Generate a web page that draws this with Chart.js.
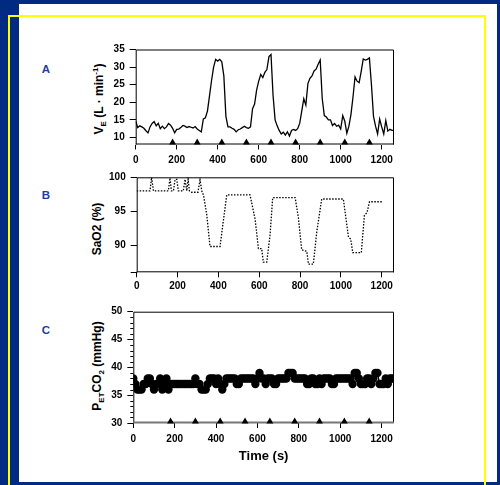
<!DOCTYPE html>
<html>
<head>
<meta charset="utf-8">
<script src="https://cdn.jsdelivr.net/npm/chart.js@4.4.0/dist/chart.umd.min.js"></script>
<style>
  html, body { margin: 0; padding: 0; }
  body { width: 500px; height: 485px; background: #012a82; position: relative; overflow: hidden;
         font-family: "Liberation Sans", Arial, sans-serif; }
  #paper { position: absolute; left: 19px; top: 4px; width: 478px; height: 478px; background: #fff; }
  .yl { position: absolute; background: #ffff00; }
  canvas { position: absolute; }
  .tag { position: absolute; color: #1c3f9e; font-weight: bold; font-size: 11.5px; transform: translate(-50%, -50%); }
  .ttl { position: absolute; font-weight: bold; font-size: 12px; white-space: nowrap; line-height: 12px;
         transform: translate(-50%, -50%) rotate(-90deg); }
  .ttl sub, .ttl sup { font-size: 8px; line-height: 0; }
</style>
</head>
<body>
<div id="paper"></div>
<div class="yl" style="left:8px;top:15px;width:478px;height:2px"></div>
<div class="yl" style="left:8px;top:15px;width:2px;height:470px"></div>
<div class="yl" style="left:484px;top:15px;width:2px;height:470px"></div>

<div class="tag" style="left:46px;top:69px">A</div>
<div class="tag" style="left:46px;top:195px">B</div>
<div class="tag" style="left:46px;top:330px">C</div>

<div class="ttl" style="left:99px;top:99px">V<sub>E</sub> (L · min<sup>-1</sup>)</div>
<div class="ttl" style="left:97px;top:229px">SaO2 (%)</div>
<div class="ttl" style="left:97px;top:366px">P<sub>ET</sub>CO<sub>2</sub> (mmHg)</div>

<canvas id="cA" width="345" height="135" style="left:60px;top:35px"></canvas>
<canvas id="cB" width="345" height="135" style="left:60px;top:165px"></canvas>
<canvas id="cC" width="345" height="170" style="left:60px;top:300px"></canvas>

<script>
// sample times (s) for panels A and C
const timeAC = [
  0, 10, 20, 30, 40, 50, 60, 70, 80, 90,
  100, 110, 120, 130, 140, 150, 160, 170, 180, 190,
  200, 210, 220, 230, 240, 250, 260, 270, 280, 290,
  300, 310, 320, 330, 340, 350, 360, 370, 380, 390,
  400, 410, 420, 430, 440, 450, 460, 470, 480, 490,
  500, 510, 520, 530, 540, 550, 560, 570, 580, 590,
  600, 610, 620, 630, 640, 650, 660, 670, 680, 690,
  700, 710, 720, 730, 740, 750, 760, 770, 780, 790,
  800, 810, 820, 830, 840, 850, 860, 870, 880, 890,
  900, 910, 920, 930, 940, 950, 960, 970, 980, 990,
  1000, 1010, 1020, 1030, 1040, 1050, 1060, 1070, 1080, 1090,
  1100, 1110, 1120, 1130, 1140, 1150, 1160, 1170, 1180, 1190,
  1200, 1210, 1220, 1230, 1240, 1250, 1260
];

// A: ventilation (L/min)
const ventA = [
  14.6, 12.8, 13.3, 13.0, 12.6, 11.9, 11.3, 13.0, 14.0, 14.5,
  13.3, 14.0, 12.5, 13.2, 12.5, 13.0, 14.0, 13.5, 12.6, 11.3,
  12.3, 12.4, 12.8, 13.4, 13.2, 12.8, 13.1, 12.9, 12.7, 13.1,
  12.4, 12.0, 11.6, 15.3, 15.6, 17.5, 21.8, 26.2, 30.0, 32.2,
  31.7, 32.2, 31.5, 27.5, 16.0, 13.0, 13.0, 12.6, 12.3, 11.6,
  12.2, 12.4, 12.8, 13.2, 12.8, 12.6, 13.0, 18.2, 19.5, 23.5,
  26.0, 27.9, 27.0, 28.5, 29.3, 33.0, 33.6, 22.0, 15.0, 13.3,
  12.0, 11.0, 11.5, 10.7, 11.6, 10.4, 12.0, 12.3, 12.0, 12.5,
  14.0, 17.5, 21.0, 19.2, 25.3, 26.8, 27.5, 28.9, 29.4, 30.8,
  32.0, 21.0, 16.2, 15.8, 15.0, 15.0, 13.4, 14.0, 13.2, 13.5,
  12.4, 16.2, 14.6, 11.2, 13.2, 16.5, 21.5, 27.2, 26.0, 25.6,
  28.8, 32.3, 32.0, 32.2, 32.6, 25.0, 16.0, 13.2, 11.0, 15.2,
  13.0, 11.0, 14.8, 11.8, 12.3, 12.0, 12.0
];

// B: SaO2 (%) — breakpoints of the dotted trace
const timeB = [
  0, 65, 73, 82, 155, 163, 170, 180, 188, 196, 204, 228, 237, 245, 252, 258,
  269, 300, 310, 320, 327, 343, 359, 408, 424, 441, 555, 580, 596, 612, 620,
  637, 653, 666, 776, 792, 808, 833, 841, 865, 882, 906, 1012, 1037, 1048,
  1058, 1100, 1115, 1128, 1140, 1200
];
const satB = [
  98, 98, 100, 98, 98, 99.9, 98, 98, 99.7, 99.7, 98, 98, 99.7, 98, 99.7, 98,
  97.8, 97.8, 99.6, 97.8, 97.4, 94.5, 89.8, 89.8, 93.5, 97.4, 97.4, 93.8, 89.5, 89.5, 87.5,
  87.5, 91.5, 97.0, 97.0, 94.0, 89.3, 89.1, 87.2, 87.2, 92.0, 96.8, 96.8, 91.2, 90.9,
  88.9, 88.9, 94.4, 94.8, 96.4, 96.4
];

// C: end-tidal CO2 (mmHg)
const co2C = [
  38, 37, 36, 36, 36, 37, 37, 38, 38, 37,
  36, 37, 37, 38, 36, 37, 38, 36, 37, 37,
  37, 37, 37, 37, 37, 37, 37, 37, 37, 37,
  38, 37, 37, 36, 36, 36, 37, 38, 38, 38,
  37, 38, 37, 36, 37, 38, 38, 38, 38, 38,
  37, 37, 38, 38, 38, 38, 38, 38, 38, 37,
  38, 39, 38, 38, 37, 38, 38, 38, 37, 37,
  38, 38, 38, 38, 38, 39, 39, 39, 38, 38,
  38, 38, 38, 38, 37, 37, 38, 38, 37, 37,
  38, 37, 38, 38, 38, 38, 37, 37, 38, 38,
  38, 38, 38, 38, 38, 38, 37, 39, 39, 38,
  37, 37, 37, 38, 38, 37, 38, 39, 39, 37,
  37, 37, 38, 37, 38, 38, 38
];

// event markers (triangles)
const marksAC = [180, 300, 420, 540, 660, 780, 900, 1020, 1140];
const marksB = [125, 245, 365, 485, 605, 725, 845, 965, 1085];

const xTicks = [0, 200, 400, 600, 800, 1000, 1200];
const yTicksA = [10, 15, 20, 25, 30, 35];
const yTicksB = [86, 90, 95, 100];
const yTicksC = [30, 35, 40, 45, 50];

Chart.defaults.font.family = '"Liberation Sans", Arial, sans-serif';
Chart.defaults.font.weight = 'bold';
Chart.defaults.font.size = 10;
Chart.defaults.color = '#000';

// box round the plot area, plus minor ticks where asked
const frame = {
  id: 'frame',
  beforeDatasetsDraw(chart, args, opts) {
    const { ctx, chartArea: a } = chart;
    ctx.save();
    ctx.lineWidth = 1;
    ctx.strokeStyle = '#000';
    ctx.beginPath();
    ctx.moveTo(a.left + 0.5, a.bottom);
    ctx.lineTo(a.left + 0.5, a.top + 0.5);
    ctx.lineTo(a.right - 0.5, a.top + 0.5);
    ctx.lineTo(a.right - 0.5, a.bottom);
    ctx.stroke();
    ctx.strokeStyle = opts.bottomColor || '#000';
    ctx.lineWidth = opts.bottomWidth || 1;
    ctx.beginPath();
    ctx.moveTo(a.left, a.bottom - 0.5);
    ctx.lineTo(a.right, a.bottom - 0.5);
    ctx.stroke();
    if (opts.minor) {
      const y = chart.scales.y;
      ctx.strokeStyle = '#000';
      ctx.lineWidth = 1;
      ctx.beginPath();
      opts.minor.forEach(v => {
        const py = Math.round(y.getPixelForValue(v)) + 0.5;
        ctx.moveTo(a.left - 3, py);
        ctx.lineTo(a.left, py);
      });
      ctx.stroke();
    }
    ctx.restore();
  }
};

function makeOpts(p) {
  return {
    responsive: false,
    animation: false,
    layout: { padding: { left: 0, right: 11, top: p.top, bottom: p.bottom } },
    plugins: { legend: { display: false }, tooltip: { enabled: false }, frame: p.frame || {} },
    scales: {
      x: {
        type: 'linear', min: 0, max: 1260,
        afterBuildTicks: s => { s.ticks = xTicks.map(v => ({ value: v })); },
        afterFit: s => { s.height = p.xh; },
        grid: { drawOnChartArea: false, drawTicks: true, tickLength: 5, color: '#000' },
        border: { display: false },
        ticks: { padding: p.xpad, maxRotation: 0, autoSkip: false, callback: v => String(v) },
        title: p.xtitle || { display: false }
      },
      y: {
        min: p.ymin, max: p.ymax,
        afterBuildTicks: s => { s.ticks = p.yticks.map(v => ({ value: v })); },
        afterFit: s => { s.width = p.yw; },
        grid: { drawOnChartArea: false, drawTicks: true, tickLength: 6, color: '#000' },
        border: { display: false },
        ticks: { padding: 5, callback: v => (p.ylabels.includes(v) ? String(v) : '') }
      }
    }
  };
}

function markerSet(times, yv) {
  return {
    type: 'scatter',
    data: times.map(t => ({ x: t, y: yv })),
    pointStyle: 'triangle', pointRadius: 4, borderWidth: 0,
    backgroundColor: '#000', borderColor: '#000', clip: false, order: 0
  };
}

// panel A
new Chart(document.getElementById('cA'), {
  type: 'line',
  data: {
    datasets: [
      { data: timeAC.map((t, i) => ({ x: t, y: ventA[i] })), borderColor: '#000', borderWidth: 1.3,
        pointRadius: 0, tension: 0, order: 1 },
      markerSet(marksAC, 8.57)
    ]
  },
  options: makeOpts({ top: 14.5, bottom: 3.5, xh: 22, xpad: 4.5, yw: 75.7, ymin: 8, ymax: 35,
                      yticks: yTicksA, ylabels: yTicksA }),
  plugins: [frame]
});

// panel B
new Chart(document.getElementById('cB'), {
  type: 'line',
  data: {
    datasets: [
      { data: timeB.map((t, i) => ({ x: t, y: satB[i] })), borderColor: '#000', borderWidth: 1.3,
        borderDash: [1.5, 1.5], pointRadius: 0, tension: 0, order: 1 },
      markerSet(marksB, 84.57)
    ]
  },
  options: makeOpts({ top: 12.3, bottom: 5.7, xh: 22, xpad: 3.4, yw: 76.7, ymin: 86, ymax: 100,
                      yticks: yTicksB, ylabels: [90, 95, 100] }),
  plugins: [frame]
});

// panel C
new Chart(document.getElementById('cC'), {
  type: 'line',
  data: {
    datasets: [
      { data: timeAC.map((t, i) => ({ x: t, y: co2C[i] })), borderColor: '#000', borderWidth: 1.5,
        pointRadius: 4.2, pointBackgroundColor: '#000', pointBorderWidth: 0, tension: 0, order: 1 },
      markerSet(marksAC, 30.27)
    ]
  },
  options: makeOpts({ top: 11.7, bottom: 5.5, xh: 41.5, xpad: 5.3, yw: 73.3, ymin: 30, ymax: 50,
                      yticks: yTicksC, ylabels: yTicksC,
                      xtitle: { display: true, text: 'Time (s)', font: { size: 13, weight: 'bold' },
                                padding: { top: 0, bottom: 0 } },
                      frame: { bottomColor: '#777', bottomWidth: 2,
                               minor: [31, 32, 33, 34, 36, 37, 38, 39, 41, 42, 43, 44, 46, 47, 48, 49] } }),
  plugins: [frame]
});
</script>
</body>
</html>
